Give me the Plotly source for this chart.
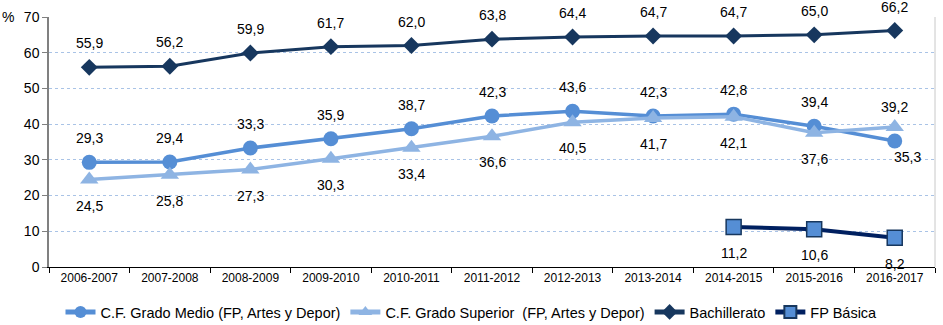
import plotly.graph_objects as go

years = ["2006-2007", "2007-2008", "2008-2009", "2009-2010", "2010-2011", "2011-2012",
         "2012-2013", "2013-2014", "2014-2015", "2015-2016", "2016-2017"]
grado_medio = [29.3, 29.4, 33.3, 35.9, 38.7, 42.3, 43.6, 42.3, 42.8, 39.4, 35.3]
grado_superior = [24.5, 25.8, 27.3, 30.3, 33.4, 36.6, 40.5, 41.7, 42.1, 37.6, 39.2]
bachillerato = [55.9, 56.2, 59.9, 61.7, 62.0, 63.8, 64.4, 64.7, 64.7, 65.0, 66.2]
fp_years = ["2014-2015", "2015-2016", "2016-2017"]
fp_basica = [11.2, 10.6, 8.2]

FONT = "Liberation Sans, Arial, sans-serif"
fig = go.Figure()
fig.add_trace(go.Scatter(x=years, y=grado_medio, mode="lines+markers",
                         name="C.F. Grado Medio (FP, Artes y Depor)",
                         line=dict(color="#558ED5", width=3.5),
                         marker=dict(symbol="circle", size=15, color="#558ED5")))
fig.add_trace(go.Scatter(x=years, y=grado_superior, mode="lines+markers",
                         name="C.F. Grado Superior  (FP, Artes y Depor)",
                         line=dict(color="#8EB4E3", width=3.5),
                         marker=dict(symbol="triangle-up", size=16, color="#8EB4E3")))
fig.add_trace(go.Scatter(x=years, y=bachillerato, mode="lines+markers",
                         name="Bachillerato",
                         line=dict(color="#17375E", width=3),
                         marker=dict(symbol="diamond", size=13, color="#17375E")))
fig.add_trace(go.Scatter(x=fp_years, y=fp_basica, mode="lines+markers",
                         name="FP Básica",
                         line=dict(color="#002060", width=4),
                         marker=dict(symbol="square", size=15, color="#558ED5",
                                     line=dict(color="#17375E", width=1.5))))

def fmt(v):
    return f"{v:.1f}".replace(".", ",")

ann = []
def lab(x, y, ys, xs=0):
    ann.append(dict(x=x, y=y, text=fmt(y), showarrow=False, yshift=ys, xshift=xs,
                    font=dict(family=FONT, size=14, color="#000000")))

for i, yr in enumerate(years):
    lab(yr, bachillerato[i], 24)
    if yr == "2016-2017":
        lab(yr, grado_medio[i], -16, 13)
        lab(yr, grado_superior[i], 20)
    else:
        lab(yr, grado_medio[i], 24)
        lab(yr, grado_superior[i], -26)
for i, yr in enumerate(fp_years):
    lab(yr, fp_basica[i], -26)

ann.append(dict(x=0, xref="paper", xanchor="right", xshift=-33, y=70, yref="y",
                text="%", showarrow=False, font=dict(family=FONT, size=14, color="#000")))

fig.update_layout(
    width=943, height=325,
    margin=dict(l=49, r=8, t=17, b=58, autoexpand=False),
    paper_bgcolor="white", plot_bgcolor="white",
    font=dict(family=FONT, color="#000"),
    annotations=ann,
    showlegend=True,
    legend=dict(orientation="h", x=0.5, xref="container", xanchor="center",
                y=13/325, yref="container", yanchor="middle",
                font=dict(family=FONT, size=14.5, color="#000"),
                itemsizing="constant", tracegroupgap=0, traceorder="normal"),
    xaxis=dict(type="category", categoryorder="array", categoryarray=years,
               range=[-0.5, 10.5], tickson="boundaries", ticks="outside", ticklen=5,
               tickcolor="#000", showline=True, linecolor="#000", linewidth=1,
               showgrid=False, mirror=False,
               tickfont=dict(family="Liberation Sans Narrow, " + FONT, size=12)),
    yaxis=dict(range=[0, 70], dtick=10, ticks="outside", ticklen=5, tickcolor="#808080",
               showline=True, linecolor="#808080", linewidth=1.5,
               showgrid=True, gridcolor="#A9C3E6", griddash="dot", gridwidth=1,
               zeroline=False, tickfont=dict(family=FONT, size=14)),
    shapes=[dict(type="line", xref="paper", yref="paper", x0=1, x1=1, y0=0, y1=1,
                 line=dict(color="#C8C8C8", width=1))],
)
fig.write_html("out.html")
